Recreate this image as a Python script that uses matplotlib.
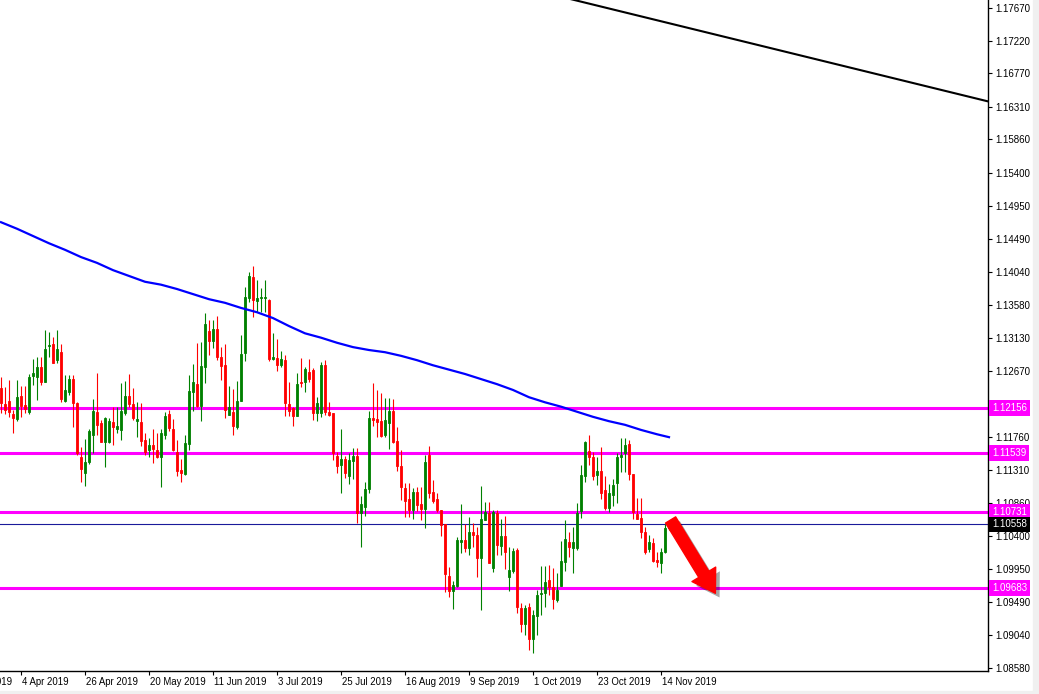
import matplotlib
matplotlib.use("Agg")
import matplotlib.pyplot as plt
import matplotlib.patches as mpatches
import matplotlib.patheffects as pe
import matplotlib.transforms as mtransforms
import numpy as np

plt.rcParams["font.family"] = ["Liberation Sans", "DejaVu Sans"]

# EURUSD daily, 28 Mar 2019 - 18 Nov 2019 (one bar per weekday)
start_date = "2019-03-28"

opens = [
    1.1244, 1.1222, 1.1226, 1.1208, 1.1201, 1.1233, 1.1220, 1.1211, 1.1260, 1.1259, 1.1273, 1.1252,
    1.1302, 1.1304, 1.1282, 1.1293, 1.1226, 1.1238, 1.1256, 1.1223, 1.1149, 1.1127, 1.1142, 1.1179,
    1.1211, 1.1196, 1.1169, 1.1169, 1.1197, 1.1187, 1.1186, 1.1209, 1.1233, 1.1222, 1.1198, 1.1197,
    1.1172, 1.1158, 1.1165, 1.1158, 1.1149, 1.1179, 1.1208, 1.1187, 1.1156, 1.1131, 1.1125, 1.1167,
    1.1238, 1.1249, 1.1219, 1.1273, 1.1322, 1.1308, 1.1325, 1.1287, 1.1276, 1.1207, 1.1211, 1.1190,
    1.1226, 1.1292, 1.1368, 1.1396, 1.1364, 1.1367, 1.1367, 1.1365, 1.1284, 1.1285, 1.1276, 1.1282,
    1.1222, 1.1216, 1.1205, 1.1252, 1.1252, 1.1266, 1.1269, 1.1209, 1.1209, 1.1276, 1.1211, 1.1209,
    1.1150, 1.1138, 1.1146, 1.1123, 1.1143, 1.1150, 1.1072, 1.1080, 1.1105, 1.1202, 1.1201, 1.1198,
    1.1179, 1.1196, 1.1212, 1.1171, 1.1136, 1.1106, 1.1091, 1.1076, 1.1100, 1.1084, 1.1077, 1.1152,
    1.1100, 1.1091, 1.1076, 1.1056, 1.0985, 1.0964, 1.0971, 1.1032, 1.1034, 1.1023, 1.1045, 1.1041,
    1.1010, 1.1062, 1.1072, 1.0996, 1.1072, 1.1026, 1.1040, 1.0983, 1.0992, 1.1021, 1.0941, 1.0919,
    1.0942, 1.0898, 1.0930, 1.0960, 1.0962, 1.0979, 1.0970, 1.0952, 1.0971, 1.1004, 1.1032, 1.1023,
    1.1023, 1.1074, 1.1123, 1.1157, 1.1149, 1.1124, 1.1129, 1.1103, 1.1078, 1.1096, 1.1113, 1.1149,
    1.1154, 1.1167, 1.1125, 1.1070, 1.1065, 1.1045, 1.1022, 1.1030, 1.1007, 1.1003, 1.1018, 1.1051,
]
highs = [
    1.1259, 1.1245, 1.1255, 1.1213, 1.1255, 1.1246, 1.1246, 1.1263, 1.1284, 1.1287, 1.1287, 1.1324,
    1.1321, 1.1314, 1.1324, 1.1304, 1.1262, 1.1262, 1.1262, 1.1224, 1.1163, 1.1174, 1.1187, 1.1229,
    1.1264, 1.1200, 1.1204, 1.1202, 1.1218, 1.1218, 1.1251, 1.1253, 1.1263, 1.1244, 1.1224, 1.1223,
    1.1182, 1.1175, 1.1187, 1.1182, 1.1187, 1.1211, 1.1213, 1.1201, 1.1172, 1.1146, 1.1179, 1.1262,
    1.1277, 1.1306, 1.1307, 1.1347, 1.1337, 1.1337, 1.1343, 1.1300, 1.1304, 1.1246, 1.1242, 1.1253,
    1.1317, 1.1383, 1.1403, 1.1412, 1.1392, 1.1381, 1.1392, 1.1366, 1.1320, 1.1311, 1.1295, 1.1289,
    1.1252, 1.1218, 1.1264, 1.1285, 1.1273, 1.1284, 1.1271, 1.1231, 1.1280, 1.1282, 1.1224, 1.1209,
    1.1156, 1.1187, 1.1150, 1.1154, 1.1161, 1.1161, 1.1095, 1.1114, 1.1212, 1.1251, 1.1241, 1.1237,
    1.1230, 1.1230, 1.1229, 1.1190, 1.1158, 1.1113, 1.1113, 1.1106, 1.1107, 1.1107, 1.1152, 1.1164,
    1.1117, 1.1099, 1.1076, 1.1056, 1.0997, 1.0978, 1.1038, 1.1084, 1.1056, 1.1066, 1.1058, 1.1052,
    1.1109, 1.1087, 1.1087, 1.1076, 1.1076, 1.1063, 1.1068, 1.1025, 1.1023, 1.1023, 1.0948, 1.0945,
    1.0948, 1.0938, 1.0966, 1.0998, 1.0998, 1.1000, 1.0996, 1.0989, 1.1033, 1.1062, 1.1045, 1.1052,
    1.1086, 1.1138, 1.1171, 1.1179, 1.1156, 1.1149, 1.1163, 1.1123, 1.1112, 1.1118, 1.1154, 1.1175,
    1.1175, 1.1172, 1.1125, 1.1092, 1.1092, 1.1052, 1.1041, 1.1037, 1.1018, 1.1023, 1.1056, 1.1059,
]
lows = [
    1.1209, 1.1208, 1.1204, 1.1182, 1.1198, 1.1204, 1.1209, 1.1208, 1.1248, 1.1227, 1.1248, 1.1252,
    1.1287, 1.1278, 1.1278, 1.1224, 1.1224, 1.1234, 1.1190, 1.1152, 1.1114, 1.1109, 1.1139, 1.1154,
    1.1179, 1.1169, 1.1135, 1.1168, 1.1165, 1.1182, 1.1172, 1.1207, 1.1218, 1.1200, 1.1176, 1.1164,
    1.1152, 1.1149, 1.1140, 1.1147, 1.1107, 1.1174, 1.1185, 1.1157, 1.1123, 1.1114, 1.1124, 1.1158,
    1.1212, 1.1218, 1.1198, 1.1251, 1.1289, 1.1299, 1.1282, 1.1255, 1.1202, 1.1207, 1.1179, 1.1187,
    1.1226, 1.1281, 1.1362, 1.1342, 1.1348, 1.1348, 1.1348, 1.1281, 1.1282, 1.1267, 1.1273, 1.1205,
    1.1205, 1.1192, 1.1205, 1.1245, 1.1238, 1.1252, 1.1200, 1.1198, 1.1204, 1.1207, 1.1205, 1.1145,
    1.1127, 1.1099, 1.1120, 1.1112, 1.1119, 1.1058, 1.1025, 1.1068, 1.1099, 1.1192, 1.1176, 1.1176,
    1.1176, 1.1160, 1.1168, 1.1129, 1.1090, 1.1066, 1.1066, 1.1063, 1.1074, 1.1062, 1.1051, 1.1092,
    1.1085, 1.1073, 1.1040, 1.0963, 1.0956, 1.0940, 1.0970, 1.1017, 1.1018, 1.1014, 1.1025, 1.0983,
    1.0938, 1.1062, 1.1003, 1.0990, 1.1014, 1.1014, 1.0994, 1.0964, 1.0989, 1.0934, 1.0908, 1.0904,
    1.0883, 1.0879, 1.0903, 1.0931, 1.0942, 1.0959, 1.0940, 1.0949, 1.0971, 1.0992, 1.1011, 1.0989,
    1.1021, 1.1065, 1.1114, 1.1138, 1.1117, 1.1110, 1.1091, 1.1076, 1.1073, 1.1081, 1.1085, 1.1128,
    1.1128, 1.1117, 1.1063, 1.1063, 1.1037, 1.1015, 1.1018, 1.1004, 1.0997, 1.0989, 1.1017, 1.1048,
]
closes = [
    1.1223, 1.1213, 1.1211, 1.1202, 1.1231, 1.1219, 1.1215, 1.1259, 1.1264, 1.1273, 1.1252, 1.1297,
    1.1303, 1.1278, 1.1297, 1.1229, 1.1241, 1.1256, 1.1223, 1.1154, 1.1132, 1.1142, 1.1185, 1.1212,
    1.1193, 1.1169, 1.1202, 1.1198, 1.1190, 1.1191, 1.1212, 1.1233, 1.1222, 1.1202, 1.1201, 1.1171,
    1.1156, 1.1165, 1.1160, 1.1149, 1.1182, 1.1205, 1.1189, 1.1158, 1.1129, 1.1127, 1.1168, 1.1240,
    1.1252, 1.1219, 1.1274, 1.1332, 1.1308, 1.1325, 1.1287, 1.1274, 1.1213, 1.1218, 1.1191, 1.1226,
    1.1291, 1.1369, 1.1398, 1.1365, 1.1368, 1.1369, 1.1369, 1.1284, 1.1287, 1.1276, 1.1284, 1.1223,
    1.1212, 1.1205, 1.1249, 1.1251, 1.1270, 1.1256, 1.1209, 1.1223, 1.1276, 1.1211, 1.1207, 1.1154,
    1.1136, 1.1146, 1.1127, 1.1145, 1.1150, 1.1072, 1.1084, 1.1105, 1.1202, 1.1200, 1.1197, 1.1178,
    1.1200, 1.1212, 1.1169, 1.1136, 1.1107, 1.1088, 1.1076, 1.1100, 1.1083, 1.1077, 1.1142, 1.1099,
    1.1088, 1.1076, 1.1055, 1.0988, 1.0964, 1.0972, 1.1034, 1.1034, 1.1023, 1.1045, 1.1041, 1.1010,
    1.1063, 1.1073, 1.1003, 1.1073, 1.1028, 1.1040, 1.1018, 1.0993, 1.1019, 1.0942, 1.0919, 1.0941,
    1.0898, 1.0931, 1.0959, 1.0962, 1.0977, 1.0970, 1.0953, 1.0966, 1.1005, 1.1036, 1.1025, 1.1032,
    1.1072, 1.1124, 1.1169, 1.1149, 1.1123, 1.1129, 1.1099, 1.1078, 1.1099, 1.1110, 1.1149, 1.1152,
    1.1165, 1.1125, 1.1073, 1.1063, 1.1045, 1.1018, 1.1032, 1.1005, 1.1004, 1.1018, 1.1051, 1.1056,
]

# moving average, sampled every 4th bar (plus the last bar)
ma_bars = list(range(0, 165, 4)) + [167]
ma_values = [
    1.1472, 1.1463, 1.1453, 1.1443, 1.1434, 1.1424, 1.1416, 1.1406, 1.1398, 1.1390, 1.1386,
    1.1380, 1.1373, 1.1366, 1.1361, 1.1354, 1.1348, 1.1340, 1.1329, 1.1319, 1.1313, 1.1306,
    1.1300, 1.1296, 1.1293, 1.1288, 1.1282, 1.1275, 1.1269, 1.1263, 1.1256, 1.1249, 1.1241,
    1.1231, 1.1224, 1.1218, 1.1211, 1.1204, 1.1198, 1.1193, 1.1186, 1.1180, 1.1176,
]

levels = [1.12156, 1.11539, 1.10731, 1.09683]
price_now = 1.10558

ytick_vals = [1.17670, 1.17220, 1.16770, 1.16310, 1.15860, 1.15400, 1.14950, 1.14490,
              1.14040, 1.13580, 1.13130, 1.12670, 1.12220, 1.11760, 1.11310, 1.10860,
              1.10400, 1.09950, 1.09490, 1.09040, 1.08580]
date_labels = ["2019-03-13", "2019-04-04", "2019-04-26", "2019-05-20", "2019-06-11",
               "2019-07-03", "2019-07-25", "2019-08-16", "2019-09-09", "2019-10-01",
               "2019-10-23", "2019-11-14"]

# hand drawn objects: trend line and arrow (bar index, price)
trend_x = [130, 250]
trend_y = [1.1796, 1.1634]
arrow_from = (167.4, 1.1062)
arrow_to = (178.6, 1.0961)

GREEN = "#008000"
RED = "#ff0000"
MAGENTA = "#ff00ff"
FS = 7

W, H = 1039, 694
fig = plt.figure(figsize=(W / 100, H / 100), dpi=100)
fig.patch.set_facecolor("white")
ax = fig.add_axes([0, 23 / H, 988 / W, 671 / H])
ax.set_ylim(1.08540, 1.17780)

# window edges
fig.patches.append(mpatches.Rectangle((1033 / W, 0), 6 / W, 1, transform=fig.transFigure,
                                      color="#f0f0f0", zorder=0))
fig.patches.append(mpatches.Rectangle((0, 0), 1, 3 / H, transform=fig.transFigure,
                                      color="#f0f0f0", zorder=0))

o = np.array(opens)
h = np.array(highs)
l = np.array(lows)
c = np.array(closes)
idx = np.arange(len(o))
colors = np.where(c >= o, GREEN, RED)

ax.vlines(idx, l, h, colors=colors, lw=0.8, zorder=3)
ax.bar(idx, np.abs(c - o), bottom=np.minimum(o, c), width=0.6, color=colors,
       edgecolor=colors, linewidth=0.6, zorder=3)

ax.plot(ma_bars, ma_values, color="#0000ff", lw=1.6, zorder=4)

for lv in levels:
    ax.axhline(lv, color=MAGENTA, lw=2.2, zorder=2)
ax.axhline(price_now, color="#1a1a9a", lw=0.8, zorder=2)

ax.plot(trend_x, trend_y, color="black", lw=1.5, zorder=4)

arrow = mpatches.FancyArrowPatch(
    arrow_from, arrow_to, shrinkA=0, shrinkB=0, mutation_scale=10,
    arrowstyle="simple,head_length=1.6,head_width=2.0,tail_width=0.85",
    color=RED, capstyle="round", zorder=6,
    path_effects=[pe.withSimplePatchShadow(offset=(3, -3), shadow_rgbFace="k", alpha=0.35)])
ax.add_patch(arrow)

# axes frame
for s in ["top", "left"]:
    ax.spines[s].set_visible(False)
ax.spines["right"].set_linewidth(1)
ax.spines["bottom"].set_linewidth(1)

ax.yaxis.tick_right()
ax.set_yticks(ytick_vals)
ax.set_yticklabels([f"{v:.5f}" for v in ytick_vals])
ax.tick_params(axis="y", length=3, width=0.8, pad=2, labelsize=FS, colors="black")

ax.set_xticks(np.busday_count(start_date, date_labels))
ax.set_xticklabels([])
ax.tick_params(axis="x", length=3, width=0.8)
ax.set_xlim(-0.25, 246.75)

xtrans = mtransforms.blended_transform_factory(ax.transData, ax.transAxes)
for d in date_labels:
    pos = np.busday_count(start_date, d)
    dt = np.datetime64(d).astype(object)
    ax.text(pos + 0.35, -11 / 671, f"{dt.day} {dt:%b %Y}", transform=xtrans,
            ha="left", va="center", fontsize=6.9, clip_on=False)

ytrans = mtransforms.blended_transform_factory(ax.transAxes, ax.transData)
for lv in levels:
    ax.text(1 + 4 / 988, lv, f"{lv:.5f}", transform=ytrans, ha="left", va="center",
            fontsize=FS, color="white", zorder=10, clip_on=False,
            bbox=dict(boxstyle="square,pad=0.3", fc=MAGENTA, ec="none"))
ax.text(1 + 4 / 988, price_now, f"{price_now:.5f}", transform=ytrans, ha="left",
        va="center", fontsize=FS, color="white", zorder=10, clip_on=False,
        bbox=dict(boxstyle="square,pad=0.3", fc="black", ec="none"))

fig.savefig("out.png", dpi=100, facecolor="white")
